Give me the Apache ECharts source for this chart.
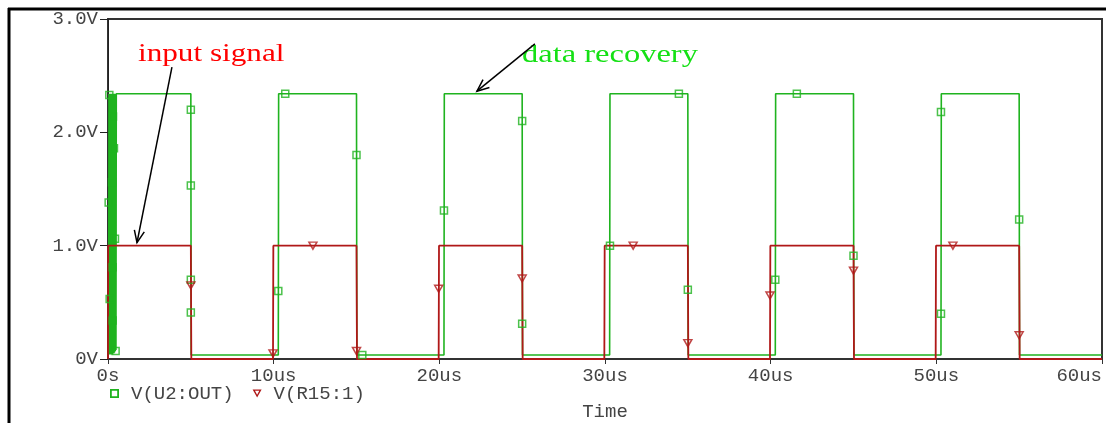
<!DOCTYPE html>
<html>
<head>
<meta charset="utf-8">
<script src="https://cdn.jsdelivr.net/npm/echarts@6/dist/echarts.min.js"></script>
<style>
html,body{margin:0;padding:0;background:#fff}
#chart{width:1106px;height:423px}
</style>
</head>
<body>
<div id="chart"></div>
<script>
// time in us, voltage in V
var xTickLabels = ["0s", "10us", "20us", "30us", "40us", "50us", "60us"];
var yTickLabels = ["0V", "1.0V", "2.0V", "3.0V"];

// V(U2:OUT) trace (data recovery), ringing at start-up then square wave
var outTrace = [
  [0.04, 0.04], [0.06, 2.34], [0.08, 0.04], [0.1, 2.34], [0.12, 0.04], [0.14, 2.34],
  [0.16, 0.04], [0.18, 2.34], [0.2, 0.04], [0.22, 2.34], [0.24, 0.04], [0.26, 2.34],
  [0.28, 0.04], [0.3, 2.34], [0.32, 0.05], [0.34, 2.34], [0.36, 0.05], [0.38, 2.34],
  [0.4, 0.06], [0.42, 2.34], [0.44, 0.07], [0.46, 2.34], [0.48, 0.08], [0.5, 2.34],
  [5.0, 2.34], [5.02, 0.035], [10.28, 0.035], [10.3, 2.34],
  [15.0, 2.34], [15.02, 0.035], [20.28, 0.035], [20.3, 2.34],
  [25.0, 2.34], [25.02, 0.035], [30.28, 0.035], [30.3, 2.34],
  [35.0, 2.34], [35.02, 0.035], [40.28, 0.035], [40.3, 2.34],
  [45.0, 2.34], [45.02, 0.035], [50.28, 0.035], [50.3, 2.34],
  [55.0, 2.34], [55.02, 0.035], [60, 0.035]
];
// V(R15:1) trace (input signal)
var inTrace = [
  [0, 0], [0.01, 1], [5, 1], [5.03, 0], [9.96, 0], [9.98, 1],
  [15, 1], [15.03, 0], [19.96, 0], [19.98, 1],
  [25, 1], [25.03, 0], [29.96, 0], [29.98, 1],
  [35, 1], [35.03, 0], [39.96, 0], [39.98, 1],
  [45, 1], [45.03, 0], [49.96, 0], [49.98, 1],
  [55, 1], [55.03, 0], [60, 0]
];
// probe markers
var outMarks = [
  [0.08, 2.33], [0.3, 2.14], [0.36, 1.86], [0.24, 1.56], [0.04, 1.38], [0.42, 1.06],
  [0.28, 0.81], [0.1, 0.53], [0.28, 0.34], [0.46, 0.07],
  [5.0, 2.2], [5.0, 1.53], [5.0, 0.7], [5.0, 0.41],
  [10.28, 0.6], [10.7, 2.34], [15.0, 1.8], [15.35, 0.035],
  [20.28, 1.31], [25.0, 2.1], [25.0, 0.31], [30.3, 1.0],
  [34.46, 2.34], [35.0, 0.61], [40.28, 0.7], [41.58, 2.34],
  [45.0, 0.91], [50.28, 0.4], [50.28, 2.18], [55.0, 1.23]
];
var inMarks = [
  [5.0, 0.65], [9.96, 0.05], [12.37, 1.0], [15.0, 0.07], [19.96, 0.62],
  [25.0, 0.71], [31.7, 1.0], [35.0, 0.14], [39.96, 0.56], [45.0, 0.78],
  [51.0, 1.0], [55.0, 0.21]
];
// annotation arrows: [from, to] in data units
var inArrow = [[3.86, 2.575], [1.75, 1.027]];
var outArrow = [[25.77, 2.78], [22.27, 2.363]];

var green = "#1fb31f";
var red = "#b01818";
var mono = "Liberation Mono";

var chart = echarts.init(document.getElementById("chart"));
var option = {
  animation: false,
  backgroundColor: "#fff",
  grid: {
    left: 108,
    right: 4,
    top: 19,
    bottom: 64,
    outerBoundsMode: "none",
    show: true,
    borderColor: "#333",
    borderWidth: 2
  },
  legend: {
    left: 110,
    top: 384,
    padding: 0,
    itemWidth: 9,
    itemHeight: 9,
    itemGap: 19,
    textStyle: {fontFamily: mono, fontSize: 19, color: "#444", padding: [0, 0, 0, 7]},
    data: [
      {name: "V(U2:OUT)", icon: "path://M0,0L10,0L10,10L0,10Z M2,2L2,8L8,8L8,2Z", itemStyle: {color: green}},
      {name: "V(R15:1)", icon: "path://M0,0L10,0L5,9Z M2.6,1.4L5,5.8L7.4,1.4Z", itemStyle: {color: red}}
    ]
  },
  xAxis: {
    type: "value",
    min: 0,
    max: 60,
    interval: 10,
    name: "Time",
    nameLocation: "middle",
    nameGap: 43,
    nameTextStyle: {fontFamily: mono, fontSize: 19, color: "#444"},
    axisLine: {lineStyle: {color: "#333", width: 2}},
    axisTick: {length: 5, lineStyle: {color: "#333", width: 1}},
    axisLabel: {
      margin: 7,
      fontFamily: mono,
      fontSize: 19,
      color: "#444",
      alignMaxLabel: "right",
      formatter: function (v) { return xTickLabels[Math.round(v / 10)]; }
    },
    splitLine: {show: false}
  },
  yAxis: {
    type: "value",
    min: 0,
    max: 3,
    interval: 1,
    axisLine: {show: true, lineStyle: {color: "#222", width: 1}},
    axisTick: {show: true, length: 8, lineStyle: {color: "#222"}},
    axisLabel: {
      margin: 10,
      fontFamily: mono,
      fontSize: 19,
      color: "#444",
      formatter: function (v) { return yTickLabels[Math.round(v)]; }
    },
    splitLine: {show: false}
  },
  series: [
    {
      name: "V(U2:OUT)",
      type: "line",
      data: outTrace,
      showSymbol: false,
      clip: false,
      lineStyle: {color: green, width: 1.6},
      itemStyle: {color: green},
      z: 2
    },
    {
      name: "V(R15:1)",
      type: "line",
      data: inTrace,
      showSymbol: false,
      clip: false,
      lineStyle: {color: red, width: 1.8},
      itemStyle: {color: red},
      z: 3
    },
    {
      name: "V(U2:OUT)",
      type: "scatter",
      data: outMarks,
      symbol: "rect",
      symbolSize: 7,
      itemStyle: {color: "rgba(0,0,0,0)", borderColor: green, borderWidth: 1.5},
      z: 4
    },
    {
      name: "V(R15:1)",
      type: "scatter",
      data: inMarks,
      symbol: "triangle",
      symbolRotate: 180,
      symbolSize: [8, 7],
      itemStyle: {color: "rgba(0,0,0,0)", borderColor: red, borderWidth: 1.5},
      z: 5
    }
  ]
};
chart.setOption(option);

function arrow(id, pair) {
  var p0 = chart.convertToPixel({gridIndex: 0}, pair[0]);
  var p1 = chart.convertToPixel({gridIndex: 0}, pair[1]);
  var ang = Math.atan2(p0[1] - p1[1], p0[0] - p1[0]);
  var len = 13, spread = 0.4;
  var a1 = [p1[0] + len * Math.cos(ang + spread), p1[1] + len * Math.sin(ang + spread)];
  var a2 = [p1[0] + len * Math.cos(ang - spread), p1[1] + len * Math.sin(ang - spread)];
  return [
    {type: "line", id: id + "s", shape: {x1: p0[0], y1: p0[1], x2: p1[0], y2: p1[1]}, style: {stroke: "#000", lineWidth: 1.5}, z: 10},
    {type: "polyline", id: id + "h", shape: {points: [a1, p1, a2]}, style: {stroke: "#000", lineWidth: 1.5, fill: null}, z: 10}
  ];
}

var graphics = [
  {type: "line", shape: {x1: 8, y1: 9, x2: 1106, y2: 9}, style: {stroke: "#000", lineWidth: 3}},
  {type: "line", shape: {x1: 9, y1: 8, x2: 9, y2: 423}, style: {stroke: "#000", lineWidth: 3}},
  {type: "text", x: 138, y: 54, scaleX: 1.2, style: {text: "input signal", font: '26px "Liberation Serif"', fill: "#ff0000", verticalAlign: "middle"}, z: 10},
  {type: "text", x: 522, y: 55, scaleX: 1.3, style: {text: "data recovery", font: '25px "Liberation Serif"', fill: "#14e014", verticalAlign: "middle"}, z: 10}
].concat(arrow("a1", inArrow), arrow("a2", outArrow));

chart.setOption({graphic: graphics});
</script>
</body>
</html>
